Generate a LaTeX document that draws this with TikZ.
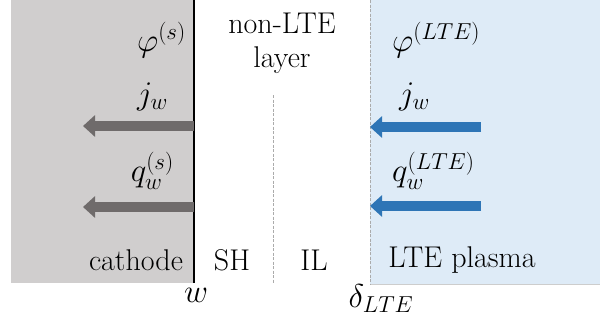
\RequirePackage{fix-cm}
\documentclass[tikz,border=0pt]{standalone}
\usepackage{amsmath}
\usetikzlibrary{arrows.meta}
\definecolor{cathodegray}{HTML}{D0CECE}
\definecolor{fluxgray}{HTML}{6F6B6B}
\definecolor{plasmablue}{HTML}{DEEBF7}
\definecolor{fluxblue}{HTML}{2E75B6}
\definecolor{edgegray}{HTML}{ABABAB}

\begin{document}
\begin{tikzpicture}[x=1pt, y=-1pt]
	\tikzstyle{every node} = [font=\fontsize{30}{34}\selectfont, inner sep=0pt]
	\tikzstyle{sym} = [font=\fontsize{33}{38}\selectfont]
	\tikzstyle{flux} = [line width=10pt, -{Triangle[length=12pt, width=21pt]}]
	\useasboundingbox (0,0) rectangle (600,322);
	% regions
	\fill[cathodegray] (11,0) rectangle (194,283);
	\fill[plasmablue] (370,0) rectangle (600,284);
	\draw[edgegray!60, line width=0.6pt] (370,284) -- (600,284);
	\draw[edgegray, line width=1pt, dashed, dash pattern=on 3pt off 1.5pt] (370,0) -- (370,284);
	\draw[edgegray, line width=0.8pt, dashed, dash pattern=on 3pt off 1.5pt] (273,95) -- (273,283);
	\draw[black, line width=2pt] (194,0) -- (194,283);
	% end points of the fluxes
	\coordinate (JL0) at (194,126);
	\coordinate (JL1) at (83,126);
	\coordinate (QL0) at (194,207);
	\coordinate (QL1) at (83,207);
	\coordinate (JR0) at (481,127);
	\coordinate (JR1) at (370,127);
	\coordinate (QR0) at (481,206);
	\coordinate (QR1) at (370,206);
	\draw [flux, fluxgray] (JL0)--(JL1);
	\draw [flux, fluxgray] (QL0)--(QL1);
	\draw [flux, fluxblue] (JR0)--(JR1);
	\draw [flux, fluxblue] (QR0)--(QR1);
	% labels
	\node[sym, anchor=east] (phiS) at (186,40) {$\varphi^{(s)}$};
	\node[sym, anchor=east] (jL) at (168,97) {$j_w$};
	\node[sym, anchor=east] (qS) at (174,171) {$q_w^{(s)}$};
	\node (cath) at (136,260) {cathode};
	\node (SH) at (232,260) {SH};
	\node (IL) at (314,260) {IL};
	\node (plasma) at (462,260) {LTE plasma};
	\node[align=center] (layer) at (282,43) {non-LTE\\layer};
	\node[sym, anchor=west] (phiL) at (392,40) {$\varphi^{(LTE)}$};
	\node[sym, anchor=west] (jR) at (399,97) {$j_w$};
	\node[sym, anchor=west] (qL) at (392,171) {$q_w^{(LTE)}$};
	\node[sym] (w) at (196,295) {$w$};
	\node[sym] (dLTE) at (381,299) {$\delta_{LTE}$};
\end{tikzpicture}
\end{document}
